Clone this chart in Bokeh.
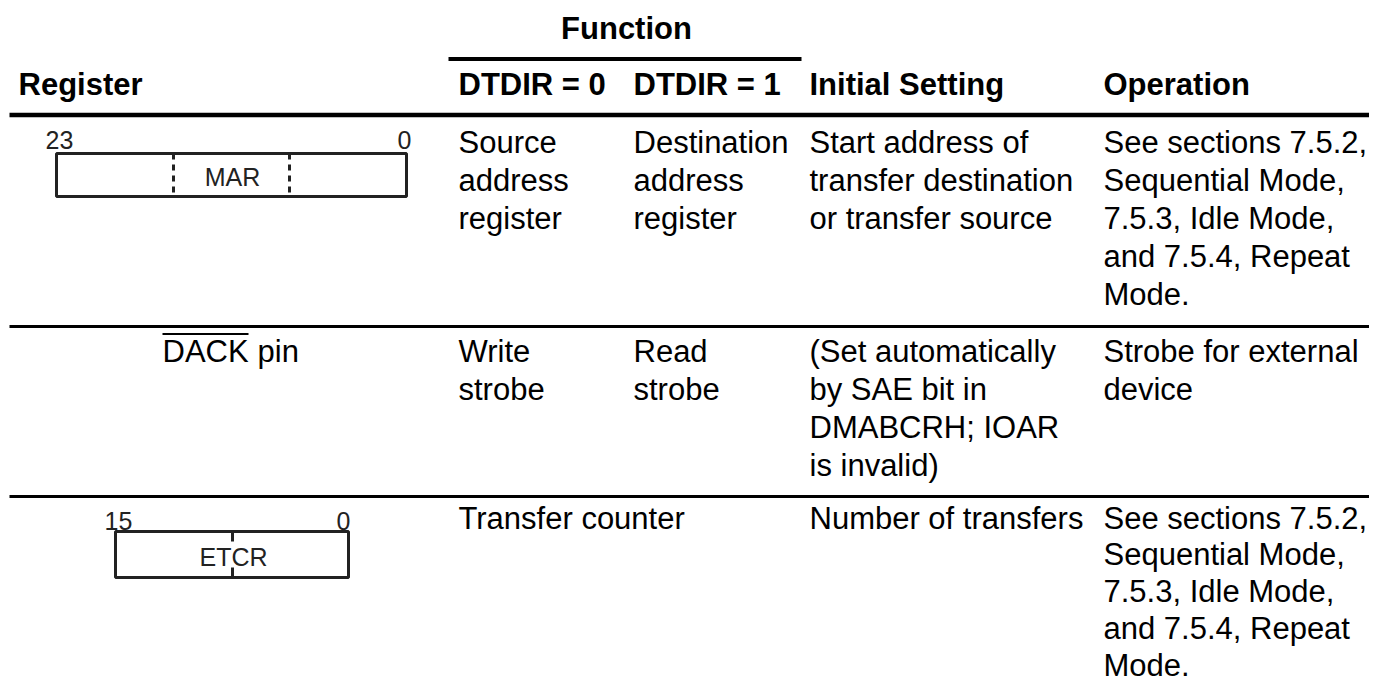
from bokeh.plotting import figure
from bokeh.models import Range1d
from bokeh.core.properties import value
from bokeh.embed import file_html
from bokeh.resources import INLINE

# ---------------- table content ----------------
group_header = "Function"
col_headers = ["Register", "DTDIR = 0", "DTDIR = 1", "Initial Setting", "Operation"]

row1_dtdir0 = ["Source", "address", "register"]
row1_dtdir1 = ["Destination", "address", "register"]
row1_initial = ["Start address of", "transfer destination", "or transfer source"]
row1_operation = ["See sections 7.5.2,", "Sequential Mode,", "7.5.3, Idle Mode,",
                  "and 7.5.4, Repeat", "Mode."]

row2_register = ["DACK", "pin"]
row2_dtdir0 = ["Write", "strobe"]
row2_dtdir1 = ["Read", "strobe"]
row2_initial = ["(Set automatically", "by SAE bit in", "DMABCRH; IOAR", "is invalid)"]
row2_operation = ["Strobe for external", "device"]

row3_function = ["Transfer counter"]
row3_initial = ["Number of transfers"]
row3_operation = ["See sections 7.5.2,", "Sequential Mode,", "7.5.3, Idle Mode,",
                  "and 7.5.4, Repeat", "Mode."]

mar_name, mar_msb, mar_lsb = "MAR", "23", "0"
etcr_name, etcr_msb, etcr_lsb = "ETCR", "15", "0"

# ---------------- layout ----------------
W, H = 1369, 684
FONT = "Liberation Sans"
BODY = 31
SMALL = 25
DESC = 0.212          # font descent (em) -> convert baseline to 'bottom' anchor
LH = 38.0
LH3 = 36.9            # last row slightly tighter so it fits the page

col_x = [18, 458, 633, 809, 1103]
header_base = 95
row_base = [152.5, 362, 528.5]

p = figure(width=W, height=H, output_backend="svg", toolbar_location=None,
           x_range=Range1d(0, W), y_range=Range1d(H, 0),
           min_border=0, outline_line_color=None)
p.axis.visible = False
p.grid.visible = False
p.background_fill_color = "white"
p.border_fill_color = "white"


def txt(xs, bases, texts, size=BODY, style="normal", align="left", color="#000000"):
    ys = [b + DESC * size for b in bases]
    p.text(x=xs, y=ys, text=texts, text_font=value(FONT), text_font_size=f"{size}px",
           text_font_style=style, text_align=align, text_baseline="bottom",
           text_color=color)


def put_lines(lines, x, y0, lh=LH):
    txt([x] * len(lines), [y0 + i * lh for i in range(len(lines))], lines)


# headers
txt([626], [39], [group_header], style="bold", align="center")
p.segment(x0=[448], y0=[58.5], x1=[801], y1=[58.5], line_width=4, line_color="black")
txt(col_x, [header_base] * len(col_headers), col_headers, style="bold")

# horizontal rules
p.segment(x0=[9], y0=[114.5], x1=[1385], y1=[114.5], line_width=4.5, line_color="black")
p.segment(x0=[9, 9], y0=[326, 496], x1=[1385, 1385], y1=[326, 496],
          line_width=3, line_color="black")

# row 1
put_lines(row1_dtdir0, col_x[1], row_base[0])
put_lines(row1_dtdir1, col_x[2], row_base[0])
put_lines(row1_initial, col_x[3], row_base[0])
put_lines(row1_operation, col_x[4], row_base[0])

# MAR register box
p.quad(left=[56], right=[406], top=[153], bottom=[196], fill_color="white",
       line_color="#222222", line_width=3)
p.segment(x0=[173, 289], y0=[153, 153], x1=[173, 289], y1=[196, 196],
          line_color="#222222", line_width=3, line_dash="6 5")
txt([232], [185], [mar_name], size=SMALL, align="center", color="#222222")
txt([45], [143.5], [mar_msb], size=SMALL, color="#222222")
txt([411], [143.5], [mar_lsb], size=SMALL, align="right", color="#222222")

# row 2
txt([162, 257], [row_base[1]] * 2, row2_register)
p.segment(x0=[162], y0=[333.5], x1=[248], y1=[333.5], line_width=2, line_color="black")
put_lines(row2_dtdir0, col_x[1], row_base[1])
put_lines(row2_dtdir1, col_x[2], row_base[1])
put_lines(row2_initial, col_x[3], row_base[1])
put_lines(row2_operation, col_x[4], row_base[1])

# row 3
put_lines(row3_function, col_x[1], row_base[2], LH3)
put_lines(row3_initial, col_x[3], row_base[2], LH3)
put_lines(row3_operation, col_x[4], row_base[2], LH3)

# ETCR register box
p.quad(left=[115], right=[348], top=[531], bottom=[577], fill_color="white",
       line_color="#222222", line_width=3)
p.segment(x0=[232, 232], y0=[531, 567], x1=[232, 232], y1=[541, 577],
          line_color="#222222", line_width=3)
txt([233], [565], [etcr_name], size=SMALL, align="center", color="#222222")
txt([104], [524], [etcr_msb], size=SMALL, color="#222222")
txt([350], [524], [etcr_lsb], size=SMALL, align="right", color="#222222")

open("out.html", "w").write(file_html(p, INLINE))
